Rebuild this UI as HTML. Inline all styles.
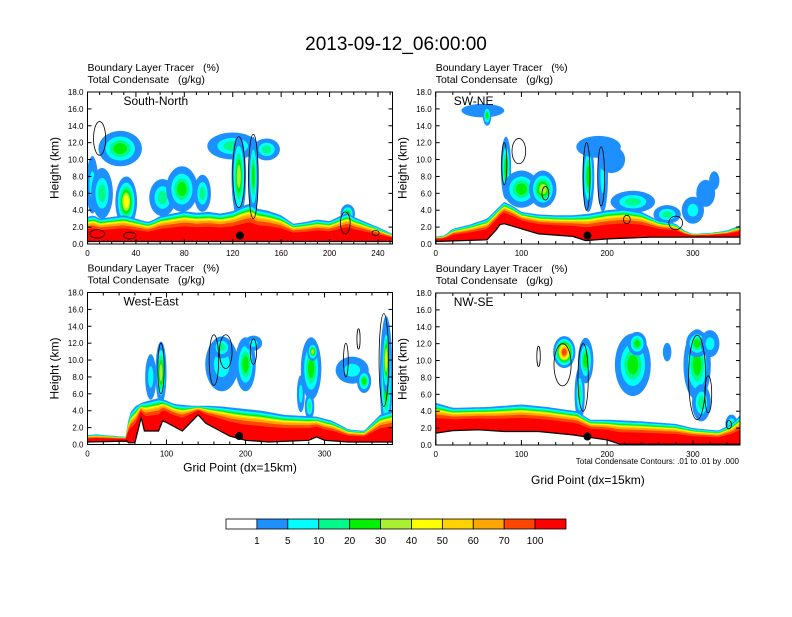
<!DOCTYPE html>
<html><head><meta charset="utf-8">
<style>
body{margin:0;background:#fff;}
svg text{font-family:"Liberation Sans",sans-serif;fill:#000;white-space:pre;}
</style></head>
<body>
<svg id="chart" width="792" height="612" viewBox="0 0 792 612" xmlns="http://www.w3.org/2000/svg">
<text x="396" y="50" text-anchor="middle" font-size="19">2013-09-12_06:00:00</text>
<g id="panels"></g>
<g id="colorbar"></g>
</svg>
<script>
// ---- data ----
const levelLabels = ["1","5","10","20","30","40","50","60","70","100"];
const levelColors = ["#ffffff","#1e8fff","#00ffff","#00fa8c","#00f000","#a8f030","#ffff00","#ffd200","#ffa500","#ff4500","#ff0000"];

const p1Grid = [0,5,10,20,30,40,50,55,60,70,80,90,100,110,120,130,135,140,150,160,170,180,190,200,210,215,220,230,240,252];
const p1Top  = [3.2,3.4,3.0,3.2,3.4,3.0,2.6,2.9,3.3,3.6,3.9,3.7,3.8,3.6,3.9,4.6,4.8,4.2,3.9,3.4,2.4,2.6,2.9,2.7,3.4,3.7,3.2,2.6,2.0,1.2];
const p1TerrGrid = [0,252];
const p1Terr = [0.3,0.3];
const p1Blobs = [[27,11.3,18,2.1,3],[4,7,5,3.4,1],[12,6,9,3,2],[32,5,9,3,5],[62,5.5,11,2.2,2],[78,6.5,13,2.7,3],[95,6,7,2.2,2],[120,11.6,21,1.6,2],[148,11.2,11,1.3,2],[125,8,6,5,4],[137,8,4,4.7,3],[215,3.6,6,1.1,3]];
const p1Cont = [[10,12.5,5,2],[125,8.5,5,4.2],[137,8,4,5],[213,2.5,4,1.3],[8,1.2,6,0.5],[35,1.0,5,0.4],[238,1.3,3,0.3]];
const p1Dot = [126,1.0];

const p2Grid = [0,10,20,40,60,70,80,90,100,120,140,160,180,200,220,240,260,280,290,300,320,340,355];
const p2Top  = [0.9,1.0,1.8,2.3,3.0,4.0,5.0,4.5,3.8,3.5,3.4,3.4,3.6,4.0,4.2,3.8,2.8,2.4,1.6,1.2,1.3,1.6,2.2];
const p2TerrGrid = [0,60,70,75,80,100,120,160,175,200,250,300,355];
const p2Terr = [0.3,0.5,1.6,2.3,2.4,1.8,1.2,0.9,0.4,0.6,0.8,0.8,0.8];
const p2Blobs = [[55,15.8,25,0.8,0],[60,15.2,5,1.2,3],[82,9,6,3.7,3],[100,6.5,21,2.2,3],[125,6.5,16,2.2,4],[178,8,7,4.2,3],[195,8,6,4.2,1],[190,11.5,26,1.3,0],[205,10,16,1.6,0],[230,5,26,1.3,2],[300,4,13,1.6,1],[315,6,11,1.6,0],[325,7.5,6,1.1,0],[270,3.5,16,1.1,2]];
const p2Cont = [[97,11,8,1.5],[80,9.5,3,2.5],[128,6,4,0.8],[176,8,4,4],[193,8,4,3.5],[223,2.9,4,0.5],[280,2.5,8,0.8]];
const p2Dot = [177,1.0];

const p3Grid = [0,10,50,52,60,70,90,100,110,130,150,170,190,200,220,250,270,290,310,330,350,370,386];
const p3Top  = [1.1,1.2,0.9,3.5,4.5,5.0,5.5,5.2,4.8,4.6,4.6,4.5,4.3,4.2,4.0,3.5,3.4,3.3,2.8,1.8,1.6,3.5,4.0];
const p3TerrGrid = [0,50,52,60,68,72,90,95,100,120,140,150,180,200,230,280,290,300,330,386];
const p3Terr = [0.3,0.4,0.2,0.2,3.2,1.6,1.6,2.8,2.6,1.6,3.5,2.5,1.0,0.5,0.3,0.5,0.9,0.5,0.3,0.3];
const p3Blobs = [[93,8.5,7,3.7,4],[80,8,7,2.7,1],[170,9.5,21,3.2,1],[170,11.5,13,1.3,2],[200,9.5,13,3.2,3],[210,12,11,0.9,1],[283,9,13,3.7,3],[285,11,7,1.1,4],[281,4.5,6,1.6,2],[335,8.8,21,1.6,1],[350,7.5,9,1.4,3],[378,8,8,7.2,4],[378,10,5,4,5],[270,6,5,2.2,1]];
const p3Cont = [[93,9,4,3],[160,10,6,3],[175,11,8,2],[210,11,4,1.5],[327,10,3,2],[343,12.5,2,1.2],[375,10,6,5.5]];
const p3Dot = [192,1.0];

const p4Grid = [0,20,60,100,130,150,165,180,200,240,280,300,330,345,355];
const p4Top  = [5.0,4.4,4.5,4.8,4.5,4.2,4.0,3.0,3.0,2.8,2.5,2.0,1.7,2.5,3.5];
const p4TerrGrid = [0,20,50,80,120,160,200,215,355];
const p4Terr = [1.4,1.7,1.8,1.6,1.6,1.2,0.6,0.1,0.1];
const p4Blobs = [[150,11,13,1.9,8],[175,10,9,2.7,3],[168,6,6,3.2,2],[230,9.5,21,3.7,3],[235,12,11,1.4,3],[270,11,5,1.1,0],[305,9.5,16,4.2,3],[305,12,13,1.6,3],[320,12,11,1.6,1],[310,5,11,2.2,2],[345,2.5,7,1.1,2]];
const p4Cont = [[148,9.5,10,2.5],[172,8,6,4],[120,10.5,2,1.2],[305,8,10,5],[318,6,4,2.2],[342,2.4,3,0.5]];
const p4Dot = [177,1.0];

const fracs = [1.0,0.93,0.88,0.84,0.8,0.77,0.74,0.7,0.62,0.5];

const panels = [
 {name:"south-north",label:"South-North",x0:87.5,x1:392.5,y0:92,y1:244,gmax:252,ticks:[0,40,80,120,160,200,240],minor:10,grid:p1Grid,top:p1Top,tg:p1TerrGrid,terr:p1Terr,blobs:p1Blobs,cont:p1Cont,dot:p1Dot,xt:false},
 {name:"sw-ne",label:"SW-NE",x0:435.7,x1:740,y0:92,y1:244,gmax:355,ticks:[0,100,200,300],minor:20,grid:p2Grid,top:p2Top,tg:p2TerrGrid,terr:p2Terr,blobs:p2Blobs,cont:p2Cont,dot:p2Dot,xt:false},
 {name:"west-east",label:"West-East",x0:87.5,x1:392.5,y0:292.5,y1:444.5,gmax:386,ticks:[0,100,200,300],minor:20,grid:p3Grid,top:p3Top,tg:p3TerrGrid,terr:p3Terr,blobs:p3Blobs,cont:p3Cont,dot:p3Dot,xt:true},
 {name:"nw-se",label:"NW-SE",x0:435.7,x1:740,y0:293,y1:445,gmax:355,ticks:[0,100,200,300],minor:20,grid:p4Grid,top:p4Top,tg:p4TerrGrid,terr:p4Terr,blobs:p4Blobs,cont:p4Cont,dot:p4Dot,xt:true}
];

const NS="http://www.w3.org/2000/svg";
function mk(tag,attrs,parent){const e=document.createElementNS(NS,tag);for(const k in attrs)e.setAttribute(k,attrs[k]);if(parent)parent.appendChild(e);return e;}
function interp(gs,vs,g){for(let i=0;i<gs.length-1;i++){if(g>=gs[i]&&g<=gs[i+1]){const t=(g-gs[i])/(gs[i+1]-gs[i]||1);return vs[i]+t*(vs[i+1]-vs[i]);}}return g<gs[0]?vs[0]:vs[vs.length-1];}

const root=document.getElementById('panels');
panels.forEach((p,pi)=>{
 const sx=g=>p.x0+g/p.gmax*(p.x1-p.x0);
 const sy=h=>p.y1-h/18*(p.y1-p.y0);
 const g=mk('g',{},root);
 
 
 const cid='clip'+pi;
 const cp=mk('clipPath',{id:cid},g);
 mk('rect',{x:p.x0,y:p.y0,width:p.x1-p.x0,height:p.y1-p.y0},cp);
 const t1=mk('text',{x:p.x0,y:p.y0-21,'font-size':10.5},g);t1.textContent="Boundary Layer Tracer   (%)";
 
 const t2=mk('text',{x:p.x0,y:p.y0-9,'font-size':10.5},g);t2.textContent="Total Condensate   (g/kg)";
 
 const plot=mk('g',{'clip-path':'url(#'+cid+')'},g);
 
 
 // cloud blobs
 p.blobs.forEach(b=>{
  const L=b[4];
  for(let i=0;i<=L;i++){
   const s=1-Math.pow(i/(L+1),0.7)*0.85;
   const e=mk('ellipse',{cx:sx(b[0]),cy:sy(b[1]),rx:(sx(b[2])-sx(0))*s,ry:(sy(0)-sy(b[3]))*s,fill:levelColors[i+1]},plot);
   
   
  }
 });
 // boundary layer bands
 const N=120;
 fracs.forEach((f,i)=>{
  let d='M'+sx(0)+','+sy(0);
  for(let k=0;k<=N;k++){const gg=k/N*p.gmax;const tr=interp(p.tg,p.terr,gg);const tp=interp(p.grid,p.top,gg);d+=' L'+sx(gg).toFixed(1)+','+sy(tr+(tp-tr)*f).toFixed(1);}
  d+=' L'+sx(p.gmax)+','+sy(0)+' Z';
  const path=mk('path',{d:d,fill:levelColors[i+1]},plot);
  
  
 });
 // terrain
 let td='M'+sx(0)+','+sy(-1);
 p.tg.forEach((gg,k)=>{td+=' L'+sx(gg).toFixed(1)+','+sy(p.terr[k]).toFixed(1);});
 td+=' L'+sx(p.gmax)+','+sy(-1)+' Z';
 const tp=mk('path',{d:td,fill:'#fff',stroke:'#000','stroke-width':1.2},plot);
 
 
 // condensate contours
 p.cont.forEach(c=>{
  const e=mk('ellipse',{cx:sx(c[0]),cy:sy(c[1]),rx:sx(c[2])-sx(0),ry:sy(0)-sy(c[3]),fill:'none',stroke:'#000','stroke-width':0.8},plot);
  
  
 });
 const dot=mk('circle',{cx:sx(p.dot[0]),cy:sy(p.dot[1]),r:4,fill:'#000'},plot);
 
 
 // frame
 const fr=mk('rect',{x:p.x0,y:p.y0,width:p.x1-p.x0,height:p.y1-p.y0,fill:'none',stroke:'#000','stroke-width':1},g);
 
 
 const lab=mk('text',{x:p.x0+(pi%2?18:36),y:p.y0+13,'font-size':12},g);lab.textContent=p.label;
 
 
 // y ticks
 for(let h=0;h<=18;h+=2){
  mk('line',{x1:p.x0,x2:p.x0+4,y1:sy(h),y2:sy(h),stroke:'#000'},g);
  mk('line',{x1:p.x1,x2:p.x1-4,y1:sy(h),y2:sy(h),stroke:'#000'},g);
  const t=mk('text',{x:p.x0-4,y:sy(h)+3,'font-size':8,'text-anchor':'end'},g);t.textContent=h.toFixed(1);
  
 }
 for(let m=0;m<=p.gmax;m+=p.minor){
  const big=p.ticks.includes(m);
  mk('line',{x1:sx(m),x2:sx(m),y1:p.y1,y2:p.y1-(big?5:3),stroke:'#000'},g);
  mk('line',{x1:sx(m),x2:sx(m),y1:p.y0,y2:p.y0+(big?5:3),stroke:'#000'},g);
 }
 p.ticks.forEach(v=>{
  const t=mk('text',{x:sx(v),y:p.y1+12,'font-size':8,'text-anchor':'middle'},g);t.textContent=v;
  
 });
 const yt=mk('text',{x:0,y:0,'font-size':12,'text-anchor':'middle',transform:'translate('+(p.x0-29)+','+((p.y0+p.y1)/2)+') rotate(-90)'},g);
 yt.textContent="Height (km)";
 
 if(p.xt){
  const xt=mk('text',{x:(p.x0+p.x1)/2,y:pi==3?p.y1+39:p.y1+27,'font-size':12,'text-anchor':'middle'},g);
  xt.textContent="Grid Point (dx=15km)";
  
 }
 if(pi==3){
  const n=mk('text',{x:p.x1-1,y:p.y1+19,'font-size':8,'text-anchor':'end'},g);
  n.textContent="Total Condensate Contours: .01 to .01 by .000";
  
 }
});
// colorbar
const cb=document.getElementById('colorbar');
const cbx0=226,cbx1=566,cby=519,cbh=10,bw=(cbx1-cbx0)/levelColors.length;
levelColors.forEach((c,i)=>{
 const r=mk('rect',{x:cbx0+i*bw,y:cby,width:bw,height:cbh,fill:c,stroke:'#000','stroke-width':0.8},cb);
 
 
});
levelLabels.forEach((l,i)=>{
 const t=mk('text',{x:cbx0+(i+1)*bw,y:544,'font-size':10,'text-anchor':'middle'},cb);t.textContent=l;
 
 
});
</script>
</body></html>
